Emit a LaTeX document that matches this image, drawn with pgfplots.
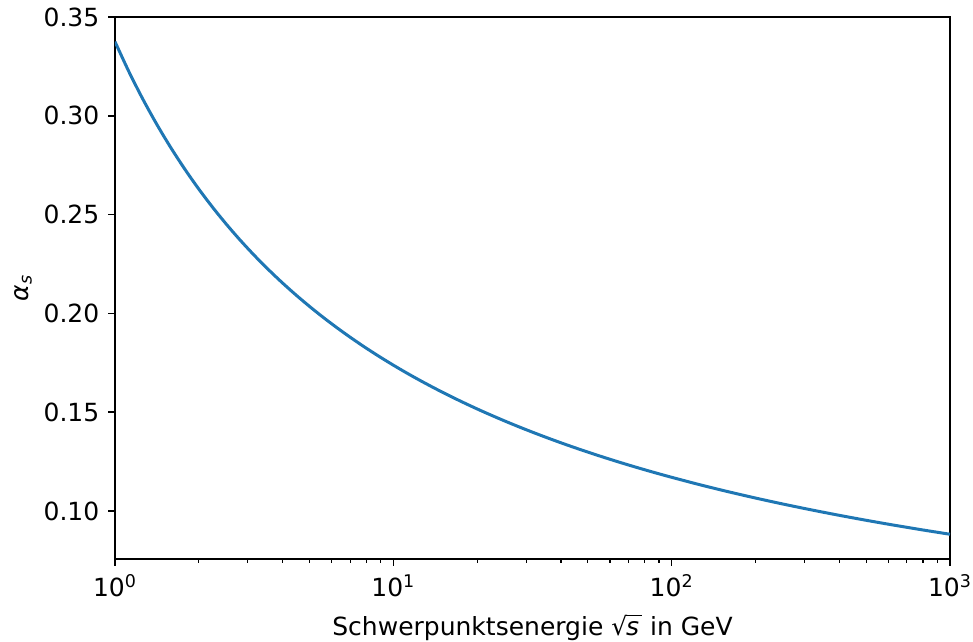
\documentclass[border=0pt]{standalone}
\usepackage{fontspec}
\setmainfont{DejaVu Sans}
\usepackage{pgfplots}
\pgfplotsset{compat=1.18}
\definecolor{mplblue}{HTML}{1F77B4}
\newcommand{\sqrts}{\setbox0\hbox{√}√\kern-0.6pt\vbox to \ht0{\hrule height 0.6pt\vfil\hbox{\itshape s\kern1.5pt}}}
\begin{document}
\fontsize{12.5}{15}\selectfont
\begin{tikzpicture}
\begin{semilogxaxis}[
  width=417.5pt, height=271pt, scale only axis,
  xmin=1, xmax=1000, ymin=0.0757, ymax=0.35,
  axis line style={line width=0.8pt},
  tick align=outside, xtick pos=bottom, ytick pos=left,
  major tick length=3.5pt, minor tick length=2pt,
  every tick/.style={black, line width=0.8pt},
  minor tick style={line width=0.6pt},
  xtick={1,10,100,1000},
  xticklabels={10\textsuperscript{0},10\textsuperscript{1},10\textsuperscript{2},10\textsuperscript{3}},
  minor xtick={2,3,4,5,6,7,8,9,20,30,40,50,60,70,80,90,200,300,400,500,600,700,800,900},
  ytick={0.10,0.15,0.20,0.25,0.30,0.35},
  /pgf/number format/assume math mode=true,
  yticklabel style={/pgf/number format/.cd, fixed, fixed zerofill, precision=2},
  xlabel={Schwerpunktsenergie \sqrts{} in GeV},
  ylabel={{\itshape α}\textsubscript{\itshape s}},
  ylabel style={at={(axis description cs:0,0.5)}, anchor=center, yshift=46pt},
  xlabel style={at={(axis description cs:0.5,0)}, anchor=center, yshift=-34.5pt},
]
\addplot[mplblue, line width=1.5pt, line join=round, smooth] coordinates {
(1,0.33750) (1.1220,0.32232) (1.2589,0.30845) (1.4125,0.29572) (1.5849,0.28400)
(1.7783,0.27317) (1.9953,0.26314) (2.2387,0.25382) (2.5119,0.24514) (2.8184,0.23703)
(3.1623,0.22944) (3.5481,0.22233) (3.9811,0.21564) (4.4668,0.20934) (5.0119,0.20340)
(5.6234,0.19778) (6.3096,0.19247) (7.0795,0.18744) (7.9433,0.18266) (8.9125,0.17812)
(10,0.17380) (11.220,0.16968) (12.589,0.16576) (14.125,0.16201) (15.849,0.15843)
(17.783,0.15500) (19.953,0.15172) (22.387,0.14858) (25.119,0.14556) (28.184,0.14266)
(31.623,0.13988) (35.481,0.13720) (39.811,0.13462) (44.668,0.13214) (50.119,0.12975)
(56.234,0.12744) (63.096,0.12521) (70.795,0.12306) (79.433,0.12099) (89.125,0.11898)
(100,0.11704) (125.89,0.11333) (158.49,0.10986) (199.53,0.10659) (251.19,0.10351)
(316.23,0.10061) (398.11,0.09786) (501.19,0.09526) (630.96,0.09279) (794.33,0.09045)
(1000,0.08822)
};
\end{semilogxaxis}
\pgfresetboundingbox
\useasboundingbox ([shift={(-57.5pt,-41.5pt)}]current axis.south west) rectangle ([shift={(11.5pt,8.5pt)}]current axis.north east);
\end{tikzpicture}
\end{document}
